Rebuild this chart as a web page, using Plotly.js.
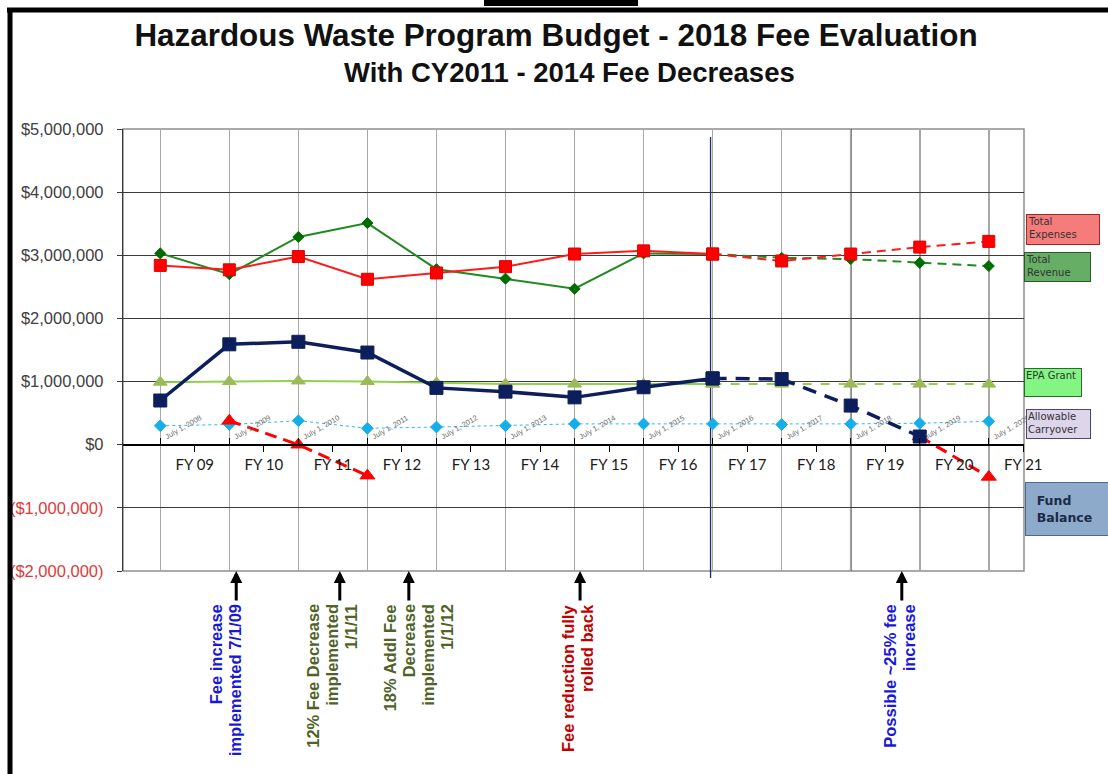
<!DOCTYPE html>
<html>
<head>
<meta charset="utf-8">
<script src="https://cdn.plot.ly/plotly-3.0.1.min.js"></script>
<style>html,body{margin:0;padding:0;background:#fff;}#chart{width:1108px;height:774px;}</style>
</head>
<body>
<div id="chart"></div>
<script>
// ---------- data ----------
const dates = ['July 1, 2008','July 1, 2009','July 1, 2010','July 1, 2011','July 1, 2012','July 1, 2013','July 1, 2014','July 1, 2015','July 1, 2016','July 1, 2017','July 1, 2018','July 1, 2019','July 1, 2020'];
const fyLabels = ['FY 09','FY 10','FY 11','FY 12','FY 13','FY 14','FY 15','FY 16','FY 17','FY 18','FY 19','FY 20','FY 21'];
const totalExpenses = [2840000, 2770000, 2980000, 2620000, 2720000, 2820000, 3020000, 3070000, 3020000, 2910000, 3020000, 3130000, 3220000];
const totalRevenue  = [3030000, 2700000, 3290000, 3510000, 2780000, 2630000, 2470000, 3030000, 3020000, 2960000, 2940000, 2880000, 2830000];
const fundBalance   = [700000, 1590000, 1630000, 1460000, 900000, 840000, 750000, 910000, 1050000, 1040000, 620000, 130000, null];
const noChangeBalance = [null, 380000, 0, -490000, null, null, null, null, null, null, null, 130000, -510000];
const epaGrant      = [990000, 1000000, 1010000, 1000000, 980000, 960000, 960000, 960000, 960000, 960000, 960000, 960000, 960000];
const allowableCarryover = [300000, 320000, 380000, 260000, 280000, 300000, 330000, 330000, 330000, 320000, 330000, 340000, 370000];
const lastActual = 8; // July 1, 2016: solid up to here, dashed projection afterwards
const yTickVals = [-2000000, -1000000, 0, 1000000, 2000000, 3000000, 4000000, 5000000];
const yTickLabels = ['($2,000,000)','($1,000,000)','$0','$1,000,000','$2,000,000','$3,000,000','$4,000,000','$5,000,000'];
const legendNames = ['Total<br>Expenses','Total<br>Revenue','EPA Grant','Allowable<br>Carryover','Fund<br>Balance'];
const noteLines = [
  ['Fee increase','implemented 7/1/09'],
  ['12% Fee Decrease','implemented','1/1/11'],
  ['18% Addl Fee','Decrease','implemented','1/1/12'],
  ['Fee reduction fully','rolled back'],
  ['Possible ~25% fee','increase']
];
const noteX = [1.1, 2.6, 3.6, 6.08, 10.74];

// ---------- layout helpers ----------
const L = 123, T = 129, W = 901, H = 442;
const px = x => (x - L) / W;
const py = y => (T + H - y) / H;
const xIdx = dates.map((d, i) => i);
const actual = arr => arr.map((v, i) => i <= lastActual ? v : null);
const proj = arr => arr.map((v, i) => i >= lastActual ? v : null);

function line(y, color, width, dash, symbol, size, mcolor, mline) {
  return {x: xIdx, y: y, type: 'scatter', mode: 'lines+markers', cliponaxis: false,
    line: {color: color, width: width, dash: dash},
    marker: {symbol: symbol, size: size, color: mcolor, line: {color: mline || mcolor, width: 1}},
    connectgaps: false, hoverinfo: 'skip'};
}

const traces = [
  line(allowableCarryover, '#2fb8ee', 1, 'dot', 'diamond', 9, '#14aeea'),
  line(actual(epaGrant), '#92d050', 2, 'solid', 'triangle-up', 12, '#9bbb59'),
  line(proj(epaGrant), '#92d050', 2, 'dash', 'triangle-up', 12, '#9bbb59'),
  line(noChangeBalance, '#ff0000', 3, '12px,7px', 'triangle-up', 13, '#ff0000'),
  line(actual(fundBalance), '#0c1f5c', 3.5, 'solid', 'square', 13, '#0c1f5c'),
  line(proj(fundBalance), '#0c1f5c', 3.5, '14px,9px', 'square', 13, '#0c1f5c'),
  line(actual(totalRevenue), '#1f8a1f', 2, 'solid', 'diamond', 8.5, '#006c00'),
  line(proj(totalRevenue), '#1f8a1f', 2, '9px,6px', 'diamond', 8.5, '#006c00'),
  line(actual(totalExpenses), '#ff1a1a', 2, 'solid', 'square', 12, '#ff0000', '#e00000'),
  line(proj(totalExpenses), '#ff1a1a', 2, '9px,6px', 'square', 12, '#ff0000', '#e00000')
];

const annotations = [];
// subtitle
annotations.push({xref: 'paper', yref: 'paper', x: px(569), y: py(72), xanchor: 'center', yanchor: 'middle',
  text: '<b>With CY2011 - 2014 Fee Decreases</b>', showarrow: false,
  font: {family: 'Liberation Sans, Arial, sans-serif', size: 27.5, color: '#111'}});
// date labels above the axis
dates.forEach((d, i) => annotations.push({x: i, y: 0, xref: 'x', yref: 'y', xanchor: 'left', yanchor: 'bottom',
  text: d, textangle: -30, showarrow: false, xshift: 0, yshift: 1,
  font: {family: 'Liberation Sans, Arial, sans-serif', size: 7.5, color: '#6e6e6e'}}));
// notes under the chart
const noteColors = ['#1818d6', '#4f6228', '#4f6228', '#c00000', '#1818d6'];
const noteFirstShift = [-20, -27, -19, -12, -12];
const lineGap = 19;
noteLines.forEach((lines, n) => {
  annotations.push({x: noteX[n], y: -2000000, xref: 'x', yref: 'y', ax: 0, ay: 31, text: '', showarrow: true,
    arrowhead: 2, arrowsize: 0.8, arrowwidth: 3, arrowcolor: '#000', standoff: 0});
  lines.forEach((t, k) => annotations.push({x: noteX[n], y: py(602), xref: 'x', yref: 'paper',
    xanchor: 'center', yanchor: 'top', textangle: -90, text: t, showarrow: false,
    xshift: noteFirstShift[n] + k * lineGap,
    font: {family: 'Liberation Sans, Arial, sans-serif', size: 16.5, color: noteColors[n], weight: 'bold'}}));
});
// legend boxes
const boxes = [
  {x0: 1026, y0: 214, x1: 1100, y1: 245, bg: '#f67c7c', bc: '#9a2a2a'},
  {x0: 1024, y0: 252, x1: 1091, y1: 282, bg: '#66ad66', bc: '#2d5a2d'},
  {x0: 1024, y0: 368, x1: 1082, y1: 397, bg: '#82f582', bc: '#2d6a2d'},
  {x0: 1026, y0: 409, x1: 1091, y1: 439, bg: '#ddd5ea', bc: '#4a4a66'},
  {x0: 1025, y0: 482, x1: 1112, y1: 536, bg: '#8eaacb', bc: '#4e6a8a'}
];
boxes.forEach((b, i) => {
  const big = i === 4;
  const txt = big ? '<b>&nbsp;&nbsp;' + legendNames[i].replace('<br>', '<br>&nbsp;&nbsp;') + '</b>' : legendNames[i];
  annotations.push({xref: 'paper', yref: 'paper', x: px(b.x0), y: py(b.y0),
    xanchor: 'left', yanchor: 'top', text: txt, showarrow: false, align: 'left',
    valign: big ? 'middle' : 'top', bgcolor: b.bg, bordercolor: b.bc, borderwidth: 1, borderpad: big ? 2 : 1,
    width: (b.x1 - b.x0) - (big ? 6 : 4), height: (b.y1 - b.y0) - (big ? 6 : 4),
    font: big ? {family: 'DejaVu Sans, Verdana, sans-serif', size: 12.5, color: '#1c2a48'}
              : {family: 'DejaVu Sans, Verdana, sans-serif', size: 10, color: '#333'}});
});

const shapes = [
  // plot border
  {type: 'rect', xref: 'paper', yref: 'paper', x0: 0, x1: 1, y0: 0, y1: 1, line: {color: '#8f8f8f', width: 1.5}, layer: 'between'},
  // marker lines
  {type: 'line', xref: 'x', yref: 'paper', x0: 7.97, x1: 7.97, y0: py(578), y1: py(137), line: {color: '#1f2f60', width: 1.3}, layer: 'between'},
  {type: 'line', xref: 'x', yref: 'paper', x0: 10, x1: 10, y0: 0, y1: 1, line: {color: '#000', width: 1.5}, layer: 'between'},
  // outer frame
  {type: 'line', xref: 'paper', yref: 'paper', x0: px(7), x1: px(1110), y0: py(10), y1: py(10), line: {color: '#000', width: 5}},
  {type: 'line', xref: 'paper', yref: 'paper', x0: px(10), x1: px(10), y0: py(8), y1: py(780), line: {color: '#000', width: 5}},
  {type: 'rect', xref: 'paper', yref: 'paper', x0: px(484), x1: px(638), y0: py(6), y1: py(0), fillcolor: '#000', line: {width: 0}}
];

const layout = {
  width: 1108, height: 774,
  margin: {l: L, r: 1108 - L - W, t: T, b: 774 - T - H, pad: 0},
  paper_bgcolor: '#fff', plot_bgcolor: '#fff',
  showlegend: false, hovermode: false,
  font: {family: 'Liberation Sans, Arial, sans-serif'},
  title: {text: '<b>Hazardous Waste Program Budget - 2018 Fee Evaluation</b>', xref: 'container', yref: 'container',
    x: 556 / 1108, xanchor: 'center', y: 1 - 35 / 774, yanchor: 'middle',
    font: {family: 'Liberation Sans, Arial, sans-serif', size: 31.4, color: '#111'}},
  xaxis: {range: [-0.54, 12.51], anchor: 'free', position: 2 / 7,
    tickmode: 'array', tickvals: fyLabels.map((f, i) => i + 0.5), ticktext: fyLabels,
    ticks: 'outside', ticklen: 6, tickcolor: '#000', tickwidth: 1,
    showline: true, linecolor: '#000', linewidth: 2, showgrid: false, zeroline: false,
    tickfont: {family: 'Lato, sans-serif', size: 15, color: '#1a1a1a'},
    minor: {tickmode: 'linear', tick0: 0, dtick: 1, ticks: 'inside', ticklen: 6, tickcolor: '#000',
      showgrid: true, gridcolor: '#a8a8a8', gridwidth: 1.5}},
  yaxis: {range: [-2000000, 5000000], tickmode: 'array', tickvals: yTickVals,
    ticktext: yTickLabels.map(t => t.startsWith('(') ? '<span style="color:#e03a3a">' + t + '</span>' : t),
    showgrid: true, gridcolor: '#3a3a3a', gridwidth: 1.2, ticks: 'outside', ticklen: 5, tickcolor: '#3a3a3a',
    showline: true, linecolor: '#3a3a3a', linewidth: 1.2, zeroline: false, ticklabelstandoff: 10,
    tickfont: {family: 'Liberation Sans, Arial, sans-serif', size: 16.5, color: '#404040'}},
  annotations: annotations,
  shapes: shapes
};

Plotly.newPlot('chart', traces, layout, {staticPlot: true, displayModeBar: false});
</script>
</body>
</html>
